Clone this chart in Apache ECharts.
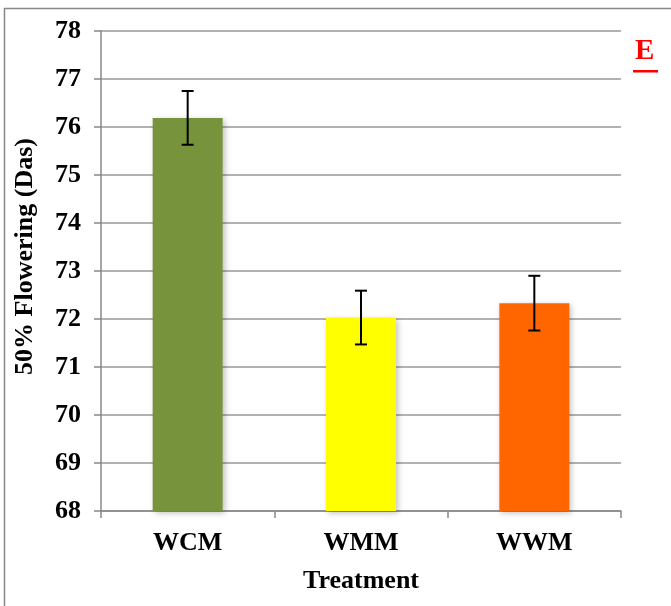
<!DOCTYPE html>
<html><head><meta charset="utf-8">
<script src="https://cdn.jsdelivr.net/npm/echarts@6/dist/echarts.min.js"></script>
<style>html,body{margin:0;padding:0;background:#fff}#c{width:671px;height:606px}</style>
</head><body><div id="c"></div>
<script>
const categories = ['WCM', 'WMM', 'WWM'];
const values = [76.19, 72.03, 72.33];
const errors = [0.56, 0.56, 0.57];
const barColors = ['#77933C', '#FFFF00', '#FF6600'];
const yTicks = [68, 69, 70, 71, 72, 73, 74, 75, 76, 77, 78];

const font = '"Liberation Serif", "Times New Roman", serif';
const chart = echarts.init(document.getElementById('c'));
chart.setOption({
  animation: false,
  graphic: [
    {type: 'rect', shape: {x: 4.5, y: 8.5, width: 700, height: 620}, style: {fill: 'none', stroke: '#888', lineWidth: 1.5}},
    {type: 'text', left: 635, top: 37, style: {text: 'E', fill: '#FF0000', font: 'bold 29px ' + font}},
    {type: 'rect', shape: {x: 633, y: 70, width: 25, height: 2.5}, style: {fill: '#FF0000'}}
  ],
  grid: {left: 101, right: 50, top: 31, bottom: 95},
  xAxis: {
    type: 'category', data: categories,
    axisLine: {lineStyle: {color: '#888', width: 1.5}},
    axisTick: {show: true, alignWithLabel: false, length: 7, lineStyle: {color: '#888', width: 1.5}},
    axisLabel: {color: '#000', fontFamily: font, fontWeight: 'bold', fontSize: 26, margin: 19},
    name: 'Treatment', nameLocation: 'middle', nameGap: 57,
    nameTextStyle: {color: '#000', fontFamily: font, fontWeight: 'bold', fontSize: 26}
  },
  yAxis: {
    type: 'value', min: 68, max: 78, interval: 1,
    axisLine: {show: true, lineStyle: {color: '#888', width: 1.5}},
    axisTick: {show: true, length: 7, inside: false, lineStyle: {color: '#888', width: 1.5}},
    splitLine: {lineStyle: {color: '#999', width: 1.5}},
    axisLabel: {color: '#000', fontFamily: font, fontWeight: 'bold', fontSize: 26, margin: 20,
      formatter: v => yTicks.includes(v) ? String(v) : ''},
    name: '50% Flowering (Das)', nameLocation: 'middle', nameGap: 63,
    nameTextStyle: {color: '#000', fontFamily: font, fontWeight: 'bold', fontSize: 26, padding: [0, 0, 0, 29]}
  },
  series: [
    {
      type: 'bar', barWidth: 70,
      data: values.map((v, i) => ({value: v, itemStyle: {color: barColors[i], shadowColor: 'rgba(0,0,0,0.25)', shadowBlur: 6, shadowOffsetX: 2, shadowOffsetY: 2}}))
    },
    {
      type: 'custom', z: 10,
      data: values.map((v, i) => [i, v - errors[i], v + errors[i]]),
      renderItem: (params, api) => {
        const lo = api.coord([api.value(0), api.value(1)]);
        const hi = api.coord([api.value(0), api.value(2)]);
        const w = 12;
        const st = {stroke: '#000', lineWidth: 2};
        return {type: 'group', children: [
          {type: 'line', shape: {x1: lo[0], y1: lo[1], x2: hi[0], y2: hi[1]}, style: st},
          {type: 'line', shape: {x1: lo[0] - w/2, y1: lo[1], x2: lo[0] + w/2, y2: lo[1]}, style: st},
          {type: 'line', shape: {x1: hi[0] - w/2, y1: hi[1], x2: hi[0] + w/2, y2: hi[1]}, style: st}
        ]};
      }
    }
  ]
});
</script></body></html>
